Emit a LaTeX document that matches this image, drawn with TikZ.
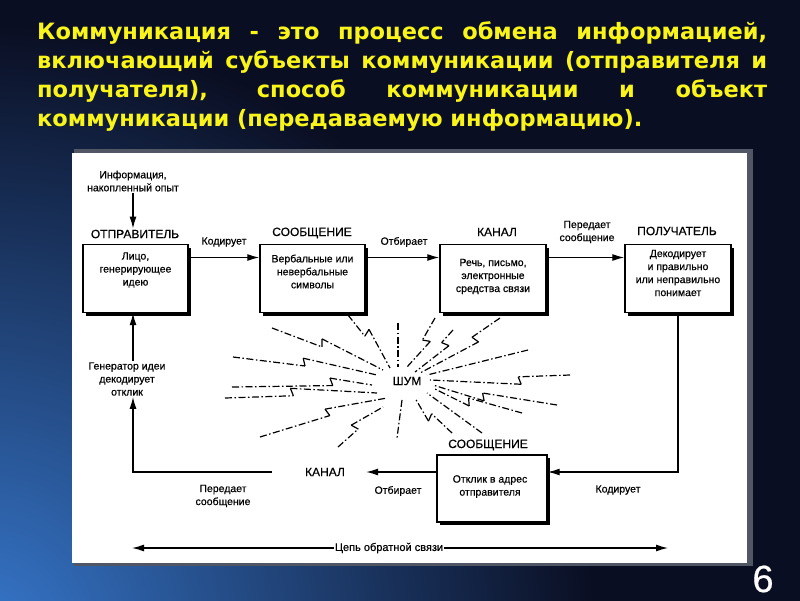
\documentclass[tikz,border=0pt]{standalone}
\usepackage{fontspec}
\setmainfont{Liberation Sans}[FakeBold=0.5]
\newfontfamily\titlefont{DejaVu Sans}
\usetikzlibrary{arrows.meta,calc}
\definecolor{bg}{RGB}{10,14,34}
\definecolor{glow}{RGB}{55,120,205}
\definecolor{ttl}{RGB}{250,245,25}
\definecolor{frame}{RGB}{80,86,100}
\pgfdeclareradialshading{glowsh}{\pgfpoint{0bp}{0bp}}{color(0bp)=(glow); color(14bp)=(bg); color(50bp)=(bg)}
\newcommand\zray[5]{%
  \coordinate (ra) at (#1,#2);
  \coordinate (rb) at (#3,#4);
  \coordinate (rp) at ($(ra)!#5!(rb)$);
  \coordinate (rq) at ($(rp)!8pt!110:(rb)$);
  \draw[noise] (ra) -- (rp);
  \draw[zz] (rp) -- (rq);
  \draw[noise] (rq) -- (rb);
}
\newcommand\sray[4]{\draw[noise] (#1,#2) -- (#3,#4);}
\begin{document}
\begin{tikzpicture}[x=1pt,y=-1pt,
  box/.style={draw=black, line width=1.4pt, fill=white, minimum width=105pt,
    minimum height=68pt, inner sep=0pt,
    preaction={fill=black, transform canvas={shift={(3pt,-3pt)}}}},
  btxt/.style={align=center, inner sep=0pt, font=\fontsize{10.5}{13}\selectfont},
  lbl/.style={inner sep=1pt, font=\fontsize{12}{14}\selectfont},
  stxt/.style={align=center, inner sep=1pt, font=\fontsize{10.5}{13}\selectfont},
  arr/.style={line width=1.3pt, -{Latex[length=12pt,width=7pt]}},
  noise/.style={line width=1.2pt, dash pattern=on 7pt off 2.5pt on 1.5pt off 2.5pt},
  zz/.style={line width=1.2pt}]
\useasboundingbox (0,0) rectangle (800,600);
% background
\fill[bg] (0,0) rectangle (800,600);
\begin{scope}
  \clip (0,0) rectangle (800,600);
  \shade[shading=glowsh] (-20,640) circle (1100);
\end{scope}
% title
\begin{scope}[every node/.style={anchor=base west, inner sep=0pt, text=ttl,
    font=\titlefont\bfseries\fontsize{22.5}{29}\selectfont}]
  \node (t1) at (37,39) {\makebox[730pt][s]{Коммуникация - это процесс обмена информацией,}};
  \node (t2) at (37,68) {\makebox[730pt][s]{включающий субъекты коммуникации (отправителя и}};
  \node (t3) at (37,97) {\makebox[730pt][s]{получателя), способ коммуникации и объект}};
  \node (t4) at (37,126) {коммуникации (передаваемую информацию).};
\end{scope}
% panel
\fill[frame] (74,149) rectangle (753,566);
\fill[white] (72,153) rectangle (747,563);
% boxes
\node[box] (snd) at (135.5,278.5) {};
\node[box] (msg) at (312.5,278.5) {};
\node[box, minimum width=106pt] (chn) at (493,278.5) {};
\node[box, minimum width=106pt] (rcv) at (678,278.5) {};
\node[box, minimum width=110pt, minimum height=67pt] (fb) at (492,488.5) {};
% box texts
\node[btxt] (sndt) at (135.5,270) {Лицо,\\генерирующее\\идею};
\node[btxt] (msgt) at (312.5,271.5) {Вербальные или\\невербальные\\символы};
\node[btxt] (chnt) at (493,276.5) {Речь, письмо,\\электронные\\средства связи};
\node[btxt] (rcvt) at (678,273) {Декодирует\\и правильно\\или неправильно\\понимает};
\node[btxt] (fbt) at (490,486.5) {Отклик в адрес\\отправителя};
% box labels
\node[lbl] (sndl) at (135,234) {ОТПРАВИТЕЛЬ};
\node[lbl] (msgl) at (312,233) {СООБЩЕНИЕ};
\node[lbl] (chnl) at (497,232) {КАНАЛ};
\node[lbl] (rcvl) at (677,231) {ПОЛУЧАТЕЛЬ};
\node[lbl] (fbl) at (488,445) {СООБЩЕНИЕ};
% other texts
\node[stxt] (info) at (133,181) {Информация,\\накопленный опыт};
\node[stxt] (cod1) at (224,242) {Кодирует};
\node[stxt] (otb1) at (404,242) {Отбирает};
\node[stxt] (per1) at (587,232) {Передает\\сообщение};
\node[stxt] (gen) at (127,379) {Генератор идеи\\декодирует\\отклик};
\node[lbl] (kan2) at (325,472) {КАНАЛ};
\node[stxt] (otb2) at (398,491) {Отбирает};
\node[stxt] (per2) at (223,496) {Передает\\сообщение};
\node[stxt] (cod2) at (618,490) {Кодирует};
\node[stxt, font=\fontsize{11}{13}\selectfont] (fbc) at (389,548) {Цепь обратной связи};
\node[lbl] (shum) at (407,381) {ШУМ};
\coordinate (fbcl) at (132,548);
\coordinate (fbcr) at (668,548);
% connectors
\draw[arr] (info.south) -- (info.south |- sndl.north);
\draw[arr] ([yshift=21pt]snd.east) -- ([yshift=21pt]msg.west);
\draw[arr] ([yshift=21pt]msg.east) -- ([yshift=21pt]chn.west);
\draw[arr] ([yshift=21pt]chn.east) -- ([yshift=21pt]rcv.west);
\draw[arr] (rcv.south) |- (kan2 -| fb.east);
\draw[arr, shorten >=20pt] (kan2 -| fb.west) -- (kan2.east);
\draw[arr, shorten <=32pt] (kan2.west) -| ([xshift=6pt]gen.south);
\draw[arr] ([xshift=6pt]gen.north) -- ([xshift=6pt]gen.north |- snd.south);
\draw[arr] (fbc.west) -- (fbcl);
\draw[arr] (fbc.east) -- (fbcr);
% noise rays
\zray{348}{315}{390}{368}{0.4}
\zray{272}{328}{383}{370}{0.45}
\zray{233}{357}{377}{375}{0.5}
\zray{232}{387}{372}{385}{0.72}
\zray{225}{398}{377}{393}{0.45}
\zray{260}{437}{387}{398}{0.55}
\zray{338}{447}{383}{407}{0.45}
\sray{398}{323}{398}{367}
\sray{402}{400}{397}{438}
\zray{435}{318}{407}{367}{0.45}
\zray{453}{330}{415}{372}{0.3}
\zray{500}{318}{420}{373}{0.35}
\sray{528}{350}{427}{375}
\zray{570}{375}{430}{380}{0.37}
\zray{557}{405}{433}{385}{0.6}
\zray{522}{413}{433}{388}{0.6}
\sray{482}{433}{427}{393}
\zray{452}{433}{415}{398}{0.55}
% slide number
\node[text=white, inner sep=0pt, font=\fontsize{38}{40}\selectfont] (num) at (763,579) {6};
\end{tikzpicture}
\end{document}
